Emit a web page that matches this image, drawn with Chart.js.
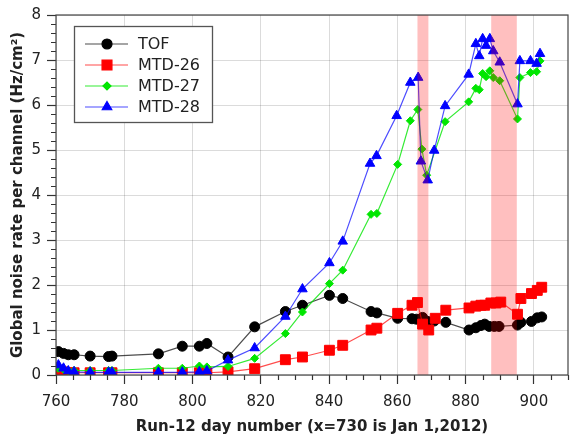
<!DOCTYPE html>
<html>
<head>
<meta charset="utf-8">
<script src="https://cdn.jsdelivr.net/npm/chart.js@4.4.1/dist/chart.umd.min.js"></script>
<style>
    html, body { margin: 0; padding: 0; background: #fff; }
    #wrap { width: 576px; height: 440px; }
</style>
</head>
<body>
<div id="wrap"><canvas id="noiseChart" width="576" height="440"></canvas></div>
<script>
// ==================== DATA ====================
const tofDays = [760.7, 762.2, 763.6, 765.3, 770, 775.4, 776.4, 790, 797, 802, 804.2, 810.4, 818.2, 827.2, 832.2, 840.1, 844, 852.3, 854, 860.1,
    864.3, 865.6, 867.4, 868.9, 870.8, 874.2, 881, 883, 884.5, 885.6, 886.9, 888.4, 889.8, 895.2, 896.2, 899.3, 901, 902.3];
const tofRate = [0.52, 0.48, 0.45, 0.45, 0.42, 0.41, 0.42, 0.47, 0.64, 0.64, 0.70, 0.40, 1.07, 1.41, 1.55, 1.77, 1.70, 1.41, 1.38, 1.26,
    1.25, 1.24, 1.28, 1.19, 1.20, 1.17, 1.00, 1.05, 1.10, 1.13, 1.08, 1.08, 1.08, 1.11, 1.17, 1.19, 1.27, 1.29];

const mtd26Days = [760.7, 762.2, 763.6, 765.3, 770, 775.4, 776.4, 790, 797, 802, 804.2, 810.4, 818.2, 827.2, 832.2, 840.1, 844, 852.3, 854, 860.1,
    864.3, 865.9, 867.4, 869.2, 871.1, 874.2, 881, 883, 884.5, 885.6, 887.4, 888.9, 890.3, 895.2, 896.2, 899.3, 901, 902.3];
const mtd26Rate = [0.10, 0.07, 0.05, 0.05, 0.05, 0.05, 0.05, 0.05, 0.05, 0.05, 0.05, 0.07, 0.14, 0.34, 0.40, 0.55, 0.66, 1.00, 1.04, 1.37,
    1.55, 1.61, 1.13, 1.00, 1.26, 1.44, 1.49, 1.53, 1.55, 1.55, 1.60, 1.60, 1.62, 1.35, 1.70, 1.81, 1.88, 1.95];

const mtd27Days = [760.7, 762.2, 763.6, 765.3, 770, 775.4, 776.4, 790, 797, 802, 804.2, 810.4, 818.2, 827.2, 832.2, 840.1, 844, 852.3, 854, 860.1,
    863.8, 866, 867.2, 868.6, 874, 880.9, 883, 884, 885, 886, 887.1, 888.1, 890, 895.2, 895.9, 899, 900.8, 901.8];
const mtd27Rate = [0.15, 0.12, 0.10, 0.10, 0.10, 0.10, 0.10, 0.15, 0.15, 0.20, 0.18, 0.19, 0.37, 0.92, 1.40, 2.03, 2.33, 3.57, 3.59, 4.68,
    5.65, 5.90, 5.02, 4.44, 5.63, 6.07, 6.37, 6.34, 6.70, 6.63, 6.76, 6.61, 6.54, 5.69, 6.61, 6.72, 6.74, 6.98];

const mtd28Days = [760.7, 762.2, 763.6, 765.3, 770, 775.4, 776.4, 790, 797, 802, 804.2, 810.4, 818.2, 827.2, 832.2, 840.1, 844, 852, 853.9, 859.8,
    863.8, 866.1, 866.9, 868.9, 870.8, 874, 880.9, 883, 884, 885, 886, 887.1, 888.1, 890, 895.2, 895.9, 899, 900.8, 901.8];
const mtd28Rate = [0.22, 0.15, 0.09, 0.07, 0.06, 0.06, 0.06, 0.06, 0.06, 0.07, 0.09, 0.33, 0.60, 1.30, 1.91, 2.49, 2.97, 4.70, 4.87, 5.76,
    6.50, 6.61, 4.75, 4.33, 4.99, 5.98, 6.68, 7.36, 7.09, 7.47, 7.32, 7.47, 7.20, 6.95, 6.02, 6.98, 6.98, 6.92, 7.14];

// shaded periods (day numbers)
const bandStart = [865.9, 887.5];
const bandEnd = [869.1, 895.0];

const xTickLabels = [760, 780, 800, 820, 840, 860, 880, 900];
const yTickLabels = [0, 1, 2, 3, 4, 5, 6, 7, 8];

function toPoints(days, vals) {
    return days.map((d, i) => ({ x: d, y: vals[i] }));
}

// ==================== PLUGINS ====================
// pink bands are laid over the data (points inside look tinted)
const shadedBands = {
    id: 'shadedBands',
    afterDatasetsDraw(chart) {
        const { ctx, chartArea: a, scales: { x } } = chart;
        ctx.save();
        ctx.fillStyle = 'rgba(255, 0, 0, 0.25)';
        bandStart.forEach((s, i) => {
            const x0 = x.getPixelForValue(s);
            const x1 = x.getPixelForValue(bandEnd[i]);
            ctx.fillRect(x0, a.top, x1 - x0, a.bottom - a.top);
        });
        ctx.restore();
    }
};

// minor ticks + full frame
const frameTicks = {
    id: 'frameTicks',
    afterDraw(chart) {
        const { ctx, chartArea: a, scales: { x, y } } = chart;
        ctx.save();
        ctx.strokeStyle = '#333';
        ctx.lineWidth = 1.2;
        ctx.beginPath();
        for (let d = 760; d <= 910; d += 5) {
            if (d % 20 === 0) continue;
            const px = Math.round(x.getPixelForValue(d)) + 0.5;
            ctx.moveTo(px, a.bottom);
            ctx.lineTo(px, a.bottom + 5);
        }
        for (let k = 0; k <= 40; k++) {
            if (k % 5 === 0) continue;
            const py = Math.round(y.getPixelForValue(k / 5)) + 0.5;
            ctx.moveTo(a.left - 5, py);
            ctx.lineTo(a.left, py);
        }
        ctx.stroke();
        ctx.strokeStyle = '#444';
        ctx.strokeRect(a.left, a.top, a.right - a.left, a.bottom - a.top);
        ctx.restore();
    }
};

// boxed legend with line + marker samples
const boxLegend = {
    id: 'boxLegend',
    afterDraw(chart) {
        const { ctx, chartArea: a } = chart;
        const bx = a.left + 18, by = a.top + 11;
        ctx.save();
        ctx.fillStyle = '#fff';
        ctx.fillRect(bx, by, 139, 97);
        ctx.strokeStyle = '#555';
        ctx.lineWidth = 1.3;
        ctx.strokeRect(bx + 0.5, by + 0.5, 138, 96);
        chart.data.datasets.forEach((ds, i) => {
            const ly = by + 18 + i * 21;
            ctx.strokeStyle = ds.borderColor;
            ctx.lineWidth = ds.borderWidth;
            ctx.beginPath();
            ctx.moveTo(bx + 11, ly);
            ctx.lineTo(bx + 54, ly);
            ctx.stroke();
            ctx.fillStyle = ds.pointBackgroundColor;
            ctx.strokeStyle = ds.pointBorderColor;
            Chart.helpers.drawPoint(ctx, {
                pointStyle: ds.pointStyle,
                radius: ds.pointRadius,
                borderWidth: 1,
                rotation: 0
            }, bx + 33, ly);
            ctx.fillStyle = '#222';
            ctx.font = '16px "DejaVu Sans", sans-serif';
            ctx.textBaseline = 'middle';
            ctx.textAlign = 'left';
            ctx.fillText(ds.label, bx + 64, ly + 1);
        });
        ctx.restore();
    }
};

// ==================== CHART ====================
Chart.defaults.font.family = '"DejaVu Sans", sans-serif';
Chart.defaults.color = '#222';

const ctx = document.getElementById('noiseChart');
new Chart(ctx, {
    type: 'scatter',
    data: {
        datasets: [{
            label: 'TOF',
            data: toPoints(tofDays, tofRate),
            showLine: true,
            borderColor: 'rgba(0, 0, 0, 0.7)',
            borderWidth: 1.2,
            pointStyle: 'circle',
            pointRadius: 5,
            pointBackgroundColor: '#000',
            pointBorderColor: '#000',
            pointBorderWidth: 1,
            order: 4
        }, {
            label: 'MTD-26',
            data: toPoints(mtd26Days, mtd26Rate),
            showLine: true,
            borderColor: 'rgba(255, 0, 0, 0.7)',
            borderWidth: 1.2,
            pointStyle: 'rect',
            pointRadius: 7,
            pointBackgroundColor: '#ff0000',
            pointBorderColor: '#ff0000',
            pointBorderWidth: 1,
            order: 3
        }, {
            label: 'MTD-27',
            data: toPoints(mtd27Days, mtd27Rate),
            showLine: true,
            borderColor: 'rgba(0, 230, 0, 0.8)',
            borderWidth: 1.2,
            pointStyle: 'rectRot',
            pointRadius: 4,
            pointBackgroundColor: '#00e600',
            pointBorderColor: '#00e600',
            pointBorderWidth: 1,
            order: 2
        }, {
            label: 'MTD-28',
            data: toPoints(mtd28Days, mtd28Rate),
            showLine: true,
            borderColor: 'rgba(0, 0, 255, 0.7)',
            borderWidth: 1.2,
            pointStyle: 'triangle',
            pointRadius: 5.5,
            pointBackgroundColor: '#0000ff',
            pointBorderColor: '#0000ff',
            pointBorderWidth: 1,
            order: 1
        }]
    },
    options: {
        responsive: false,
        animation: false,
        layout: {
            padding: { top: 12, right: 7, left: 0, bottom: 0 }
        },
        plugins: {
            legend: { display: false },
            tooltip: { enabled: false }
        },
        scales: {
            x: {
                type: 'linear',
                min: 760,
                max: 910,
                afterFit: function (scale) { scale.height = 65; },
                border: { display: false },
                grid: {
                    color: 'rgba(0, 0, 0, 0.14)',
                    lineWidth: 1,
                    drawTicks: true,
                    tickLength: 9,
                    tickColor: '#333',
                    tickWidth: 1.2
                },
                ticks: {
                    stepSize: 20,
                    includeBounds: false,
                    autoSkip: false,
                    maxRotation: 0,
                    padding: 9,
                    font: { size: 15 },
                    callback: function (value) {
                        return xTickLabels.includes(value) ? String(value) : '';
                    }
                },
                title: {
                    display: true,
                    text: 'Run-12 day number (x=730 is Jan 1,2012)',
                    font: { size: 15, weight: 'bold' },
                    padding: { top: 0, bottom: 4 }
                }
            },
            y: {
                type: 'linear',
                min: 0,
                max: 8,
                afterFit: function (scale) { scale.width = 56; },
                border: { display: false },
                grid: {
                    color: 'rgba(0, 0, 0, 0.14)',
                    lineWidth: 1,
                    drawTicks: true,
                    tickLength: 9,
                    tickColor: '#333',
                    tickWidth: 1.2
                },
                ticks: {
                    stepSize: 1,
                    padding: 6,
                    font: { size: 15 },
                    callback: function (value) {
                        return yTickLabels.includes(value) ? String(value) : '';
                    }
                },
                title: {
                    display: true,
                    text: 'Global noise rate per channel (Hz/cm²)',
                    font: { size: 15, weight: 'bold' },
                    padding: { top: 9, bottom: 0 }
                }
            }
        }
    },
    plugins: [shadedBands, frameTicks, boxLegend]
});
</script>
</body>
</html>
